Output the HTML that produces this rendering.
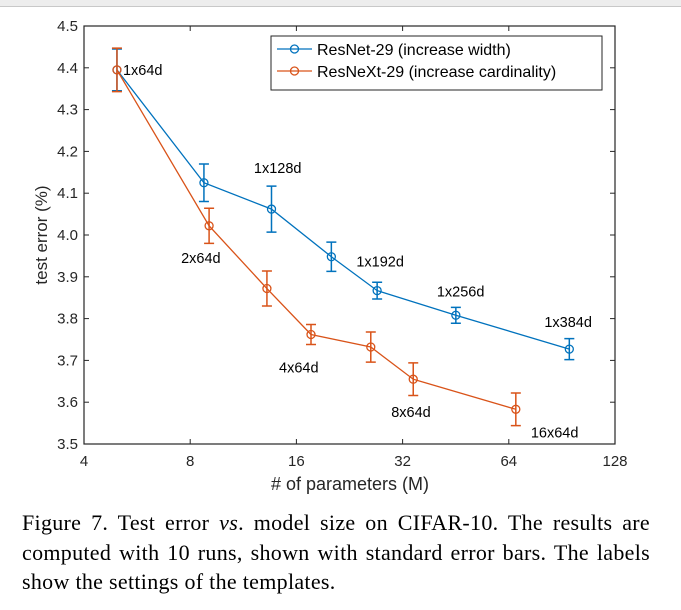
<!DOCTYPE html>
<html><head><meta charset="utf-8"><style>
body{margin:0;width:681px;height:610px;background:#fff;overflow:hidden;position:relative}
#top{position:absolute;left:0;top:0;width:681px;height:6px;background:#ededed;border-bottom:1px solid #c8c8c8}
#cap{position:absolute;left:22px;top:508px;width:628px;font-family:"Liberation Serif",serif;font-size:22px;letter-spacing:0.3px;line-height:29.5px;color:#000;white-space:nowrap}
#cap .j{text-align:justify;text-align-last:justify}
svg text{font-family:"Liberation Sans",sans-serif}
</style></head><body>
<div id="top"></div>
<svg id="chart" width="681" height="500" style="position:absolute;left:0;top:0"></svg>
<div id="cap"><div class="j">Figure 7. Test error <i>vs</i>. model size on CIFAR-10. The results are</div><div class="j">computed with 10 runs, shown with standard error bars. The labels</div><div>show the settings of the templates.</div></div>
<script>
const xTicks=[4,8,16,32,64,128];
const yTicks=[3.5,3.6,3.7,3.8,3.9,4.0,4.1,4.2,4.3,4.4,4.5];
const blueX=[4.96,8.75,13.6,20.1,27.1,45.3,95];
const blueY=[4.395,4.125,4.062,3.948,3.867,3.808,3.727];
const blueErr=[0.05,0.045,0.055,0.035,0.02,0.019,0.025];
const blueLabels=["1x64d","1x128d","","1x192d","","1x256d","1x384d"];
const orangeX=[4.96,9.05,13.2,17.6,26.0,34.3,67];
const orangeY=[4.395,4.022,3.872,3.762,3.732,3.655,3.583];
const orangeErr=[0.052,0.042,0.042,0.024,0.036,0.039,0.039];
const orangeLabels=["","2x64d","","4x64d","","8x64d","16x64d"];
const L=84,R=615,T=26,B=444;
const sx=v=>L+(Math.log2(v)-2)/5*(R-L);
const sy=v=>B-(v-3.5)/1.0*(B-T);
const svg=document.getElementById('chart');
const NS='http://www.w3.org/2000/svg';
function mk(tag,a,p){const e=document.createElementNS(NS,tag);for(const k in a)e.setAttribute(k,a[k]);(p||svg).appendChild(e);return e;}
let e;
e=mk('rect',{x:L,y:T,width:R-L,height:B-T,fill:'none',stroke:'#262626','stroke-width':1.2});


xTicks.forEach(t=>{const x=sx(t);
 mk('line',{x1:x,x2:x,y1:B,y2:B-5,stroke:'#262626'});mk('line',{x1:x,x2:x,y1:T,y2:T+5,stroke:'#262626'});
 e=mk('text',{x:x,y:B+22,'text-anchor':'middle','font-size':15,fill:'#262626'});e.textContent=t;
 
 });
yTicks.forEach(t=>{const y=sy(t);
 mk('line',{x1:L,x2:L+5,y1:y,y2:y,stroke:'#262626'});mk('line',{x1:R,x2:R-5,y1:y,y2:y,stroke:'#262626'});
 e=mk('text',{x:L-6,y:y+5,'text-anchor':'end','font-size':15,fill:'#262626'});e.textContent=t.toFixed(1);
 
 });
e=mk('text',{x:350,y:490,'text-anchor':'middle','font-size':18,fill:'#262626'});e.textContent='# of parameters (M)';


e=mk('text',{x:47,y:235,'text-anchor':'middle','font-size':17,fill:'#262626',transform:'rotate(-90 47 235)'});e.textContent='test error (%)';


function series(xs,ys,errs,labels,col,name,offs){
 const g=mk('g',{});
 mk('polyline',{points:xs.map((x,i)=>sx(x)+','+sy(ys[i])).join(' '),fill:'none',stroke:col,'stroke-width':1.3},g);
 xs.forEach((x,i)=>{const cx=sx(x),cy=sy(ys[i]),y1=sy(ys[i]+errs[i]),y2=sy(ys[i]-errs[i]);
  e=mk('path',{d:`M${cx},${y1}V${y2}M${cx-5},${y1}H${cx+5}M${cx-5},${y2}H${cx+5}`,stroke:col,'stroke-width':1.5,fill:'none'},g);
  
  
  e=mk('circle',{cx:cx,cy:cy,r:4,fill:'none',stroke:col,'stroke-width':1.3},g);
  
  
  if(labels[i]){const o=offs[i];e=mk('text',{x:cx+o[0],y:cy+o[1],'font-size':14.5,fill:'#000'},g);e.textContent=labels[i];
   
   }
 });
}
series(blueX,blueY,blueErr,blueLabels,'#0072BD','resnet',[[6,5],[50,-10],[0,0],[25,10],[0,0],[-19,-19],[-25,-22]]);
series(orangeX,orangeY,orangeErr,orangeLabels,'#D95319','resnext',[[0,0],[-28,37],[0,0],[-32,38],[0,0],[-22,38],[15,28]]);
const lg=mk('g',{});
mk('rect',{x:271,y:36,width:331,height:54,fill:'#fff',stroke:'#262626'},lg);
[['ResNet-29 (increase width)','#0072BD',55],['ResNeXt-29 (increase cardinality)','#D95319',77]].forEach(d=>{
 const g=mk('g',{},lg);
 mk('line',{x1:277,x2:312,y1:d[2]-6,y2:d[2]-6,stroke:d[1],'stroke-width':1.3},g);
 mk('circle',{cx:294.5,cy:d[2]-6,r:4,fill:'none',stroke:d[1],'stroke-width':1.3},g);
 const t=mk('text',{x:317,y:d[2],'font-size':16,fill:'#000'},g);t.textContent=d[0];});
</script>
</body></html>
